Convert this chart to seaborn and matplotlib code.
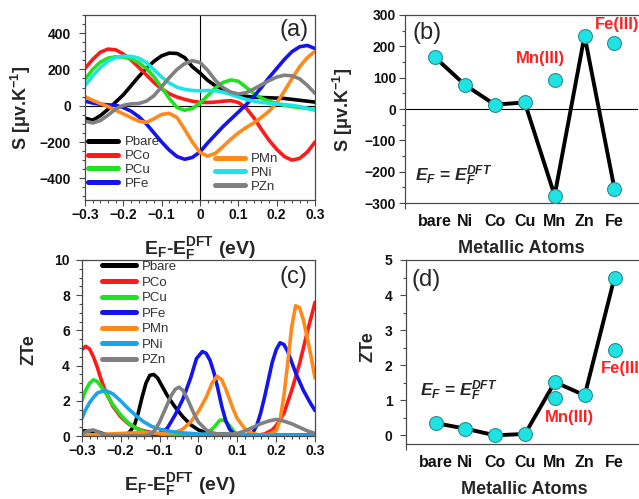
import matplotlib
matplotlib.use('Agg')
import matplotlib.pyplot as plt
from matplotlib.lines import Line2D
from matplotlib.ticker import MultipleLocator, FixedLocator
import numpy as np
import pandas as pd
import seaborn as sns

sns.set_style('ticks')
plt.rcParams['font.family'] = ['Liberation Sans', 'DejaVu Sans']
plt.rcParams['mathtext.fontset'] = 'custom'
plt.rcParams['mathtext.rm'] = 'Liberation Sans'
plt.rcParams['mathtext.bf'] = 'Liberation Sans:bold'
plt.rcParams['mathtext.it'] = 'Liberation Sans:italic'
plt.rcParams['mathtext.bfit'] = 'Liberation Sans:bold:italic'

# ---------------- data ----------------
names = ['Pbare', 'PCo', 'PCu', 'PFe', 'PMn', 'PNi', 'PZn']

# (a) Seebeck coefficient vs E_F - E_F^DFT
xa = np.round(np.linspace(-0.3, 0.3, 31), 3)
s_bare = [-68, -80, -55, -20, 20, 60, 110, 160, 205, 245, 275, 290, 288, 265, 215, 180,
          140, 110, 90, 72, 60, 52, 47, 45, 44, 42, 40, 35, 30, 25, 20]
s_co = [205, 255, 295, 312, 308, 285, 252, 212, 170, 128, 92, 66, 48, 35, 25, 18,
        18, 20, 25, 28, 18, -12, -65, -130, -190, -240, -280, -300, -290, -255, -200]
s_cu = [145, 200, 240, 262, 270, 268, 258, 238, 205, 160, 100, 40, -10, -25, -15, 15,
        55, 98, 128, 142, 135, 102, 68, 42, 25, 12, 2, -5, -10, -15, -20]
s_fe = [25, 15, 8, 5, 2, -10, -30, -60, -100, -150, -200, -245, -280, -295, -285, -255,
        -205, -160, -115, -75, -35, 5, 50, 100, 155, 205, 255, 298, 325, 332, 315]
s_mn = [50, 30, 12, -5, -25, -45, -65, -85, -92, -72, -48, -42, -65, -130, -200, -258,
        -278, -262, -225, -185, -150, -120, -95, -65, -30, 15, 80, 150, 215, 265, 300]
s_ni = [110, 165, 210, 245, 265, 273, 272, 262, 238, 198, 158, 125, 102, 90, 84, 82,
        84, 82, 75, 62, 48, 35, 25, 18, 14, 10, 6, 2, -5, -15, -25]
s_zn = [-85, -95, -82, -52, -18, 2, 10, 12, 25, 55, 105, 155, 200, 232, 248, 238,
        195, 140, 100, 75, 65, 72, 92, 115, 138, 158, 168, 165, 148, 112, 68]

# (c) ZTe vs E_F - E_F^DFT
zx_bare = [-0.3, -0.28, -0.26, -0.24, -0.22, -0.2, -0.18, -0.165, -0.155, -0.145, -0.135, -0.125,
           -0.115, -0.105, -0.095, -0.08, -0.06, -0.04, -0.02, 0.0, 0.02, 0.05, 0.1, 0.2, 0.3]
zt_bare = [0.3, 0.3, 0.25, 0.1, 0.05, 0.05, 0.15, 0.6, 1.3, 2.2, 3.0, 3.45,
           3.5, 3.3, 2.9, 2.3, 1.65, 1.1, 0.65, 0.35, 0.2, 0.12, 0.08, 0.05, 0.05]
zx_co = [-0.3, -0.29, -0.28, -0.27, -0.26, -0.25, -0.24, -0.22, -0.2, -0.18, -0.16, -0.14, -0.12,
         -0.1, -0.05, 0.0, 0.1, 0.15, 0.17, 0.19, 0.2, 0.22, 0.24, 0.26, 0.28, 0.3]
zt_co = [4.9, 5.1, 4.95, 4.5, 3.9, 3.2, 2.6, 1.7, 1.1, 0.7, 0.45, 0.3, 0.2,
         0.12, 0.05, 0.03, 0.02, 0.05, 0.12, 0.35, 0.6, 1.3, 2.6, 4.1, 5.9, 7.6]
zx_cu = [-0.3, -0.29, -0.28, -0.27, -0.26, -0.25, -0.24, -0.22, -0.2, -0.18, -0.16, -0.14, -0.12,
         -0.1, 0.0, 0.02, 0.04, 0.055, 0.065, 0.08, 0.09, 0.1, 0.12, 0.3]
zt_cu = [2.0, 2.6, 3.0, 3.2, 3.1, 2.8, 2.5, 1.8, 1.2, 0.75, 0.45, 0.25, 0.1,
         0.05, 0.05, 0.1, 0.5, 0.9, 0.92, 0.6, 0.3, 0.1, 0.05, 0.02]
zx_fe = [-0.3, -0.12, -0.1, -0.08, -0.06, -0.04, -0.02, -0.005, 0.01, 0.02, 0.03, 0.04, 0.05,
         0.06, 0.07, 0.08, 0.09, 0.12, 0.14, 0.15, 0.16, 0.17, 0.18, 0.19, 0.2, 0.21, 0.22,
         0.23, 0.24, 0.25, 0.27, 0.29, 0.3]
zt_fe = [0.0, 0.02, 0.15, 0.45, 1.2, 2.1, 3.3, 4.4, 4.8, 4.7, 4.3, 3.6, 2.7,
         1.7, 0.9, 0.4, 0.15, 0.05, 0.2, 0.6, 1.3, 2.2, 3.2, 4.2, 4.9, 5.3, 5.2,
         4.8, 4.2, 3.6, 2.6, 1.8, 1.45]
zx_mn = [-0.3, -0.2, -0.15, -0.1, -0.06, -0.04, -0.02, 0.0, 0.02, 0.035, 0.048, 0.06, 0.07,
         0.08, 0.09, 0.1, 0.12, 0.14, 0.16, 0.18, 0.2, 0.21, 0.22, 0.23, 0.24, 0.25, 0.26,
         0.27, 0.28, 0.29, 0.3]
zt_mn = [0.05, 0.15, 0.2, 0.15, 0.2, 0.4, 0.8, 1.4, 2.2, 3.0, 3.4, 3.2, 2.7,
         2.1, 1.5, 1.0, 0.4, 0.15, 0.05, 0.1, 0.3, 0.9, 2.3, 4.2, 6.2, 7.4, 7.3,
         6.6, 5.6, 4.5, 3.3]
zx_ni = [-0.3, -0.29, -0.28, -0.27, -0.26, -0.24, -0.22, -0.2, -0.18, -0.16, -0.14, -0.12,
         -0.1, -0.08, -0.05, 0.0, 0.1, 0.2, 0.3]
zt_ni = [1.0, 1.5, 1.9, 2.2, 2.45, 2.6, 2.4, 2.0, 1.55, 1.15, 0.8, 0.55,
         0.4, 0.3, 0.2, 0.12, 0.08, 0.05, 0.02]
zx_zn = [-0.3, -0.285, -0.27, -0.255, -0.24, -0.2, -0.14, -0.12, -0.11, -0.1, -0.09, -0.08,
         -0.07, -0.06, -0.05, -0.04, -0.03, -0.02, -0.01, 0.0, 0.02, 0.04, 0.07, 0.1, 0.12,
         0.14, 0.16, 0.18, 0.2, 0.22, 0.24, 0.26, 0.28, 0.3]
zt_zn = [0.1, 0.3, 0.35, 0.2, 0.05, 0.02, 0.02, 0.15, 0.4, 0.8, 1.3, 1.8,
         2.3, 2.65, 2.78, 2.6, 2.2, 1.7, 1.2, 0.8, 0.35, 0.15, 0.1, 0.15, 0.3,
         0.5, 0.7, 0.85, 0.95, 0.85, 0.7, 0.5, 0.3, 0.15]

# (b), (d) values at E_F = E_F^DFT
atoms = ['bare', 'Ni', 'Co', 'Cu', 'Mn', 'Zn', 'Fe']
s_atoms = [165, 77, 14, 21, -276, 234, -254]
zte_atoms = [0.35, 0.19, 0.0, 0.04, 1.52, 1.14, 4.5]
ox_atoms = ['Mn', 'Fe']
s_ox = [93, 211]
zte_ox = [1.06, 2.43]

# ---------------- style ----------------
pal_a = {'Pbare': '#000000', 'PCo': '#ff1a1a', 'PCu': '#22e022', 'PFe': '#1414ee',
         'PMn': '#ff8a1c', 'PNi': '#1de5e5', 'PZn': '#808080'}
pal_c = dict(pal_a, PNi='#1ea3e8')
frame_col = '#4a4a4a'
cyan_mk = '#1fe3e3'
red_txt = '#ff2020'

fig = plt.figure(figsize=(6.39, 4.99), dpi=100)
ax_a = fig.add_axes([0.133, 0.599, 0.360, 0.371])
ax_b = fig.add_axes([0.634, 0.593, 0.365, 0.377])
ax_c = fig.add_axes([0.128, 0.126, 0.365, 0.353])
ax_d = fig.add_axes([0.635, 0.110, 0.364, 0.369])


def style_axes(ax, ypad=5):
    for sp in ax.spines.values():
        sp.set_color(frame_col)
        sp.set_linewidth(0.9)
    ax.tick_params(which='both', direction='out', colors=frame_col, width=0.8)
    ax.tick_params(which='major', length=4.5, labelsize=10, labelcolor='#111111')
    ax.tick_params(which='minor', length=2.5)
    ax.tick_params(axis='x', which='major', pad=1.5)
    ax.tick_params(axis='y', which='major', pad=ypad)
    for lab in ax.get_xticklabels() + ax.get_yticklabels():
        lab.set_fontweight('bold')


xlab = r'$\mathbf{E_F}$-$\mathbf{E_F^{DFT}}$ (eV)'
slab = r'S [μv.K$^{\mathbf{-1}}$]'
eflab = r'$\mathbfit{E_F}$ = $\mathbfit{E_F^{DFT}}$'
xticks_e = [-0.3, -0.2, -0.1, 0, 0.1, 0.2, 0.3]
xticklabels_e = ['\u22120.3', '\u22120.2', '\u22120.1', '0', '0.1', '0.2', '0.3']


def legend_block(ax, handles, labels, anchor, hlen, tpad, lspace):
    leg = ax.legend(handles, labels, loc='upper left', bbox_to_anchor=anchor,
                    frameon=False, fontsize=9.5, handlelength=hlen, handletextpad=tpad,
                    labelspacing=lspace, borderpad=0, borderaxespad=0)
    for t in leg.get_texts():
        t.set_color('#333333')
    return leg


# ---------------- (a) ----------------
df_a = pd.concat([pd.DataFrame({'x': xa, 'y': v, 'curve': n}) for n, v in
                  zip(names, [s_bare, s_co, s_cu, s_fe, s_mn, s_ni, s_zn])])
ax_a.axhline(0, color='black', lw=0.8)
ax_a.axvline(0, color='black', lw=0.8)
sns.lineplot(data=df_a, x='x', y='y', hue='curve', palette=pal_a, estimator=None,
             linewidth=2.6, legend=False, ax=ax_a)
ax_a.set_xlim(-0.3, 0.3)
ax_a.set_ylim(-520, 500)
ax_a.set_xticks(xticks_e)
ax_a.set_xticklabels(xticklabels_e)
ax_a.xaxis.set_minor_locator(MultipleLocator(0.02))
ax_a.yaxis.set_major_locator(MultipleLocator(200))
ax_a.yaxis.set_minor_locator(MultipleLocator(50))
ax_a.set_xlabel(xlab, fontsize=14, fontweight='bold')
ax_a.set_ylabel(slab, fontsize=13, fontweight='bold')
ax_a.xaxis.set_label_coords(0.5, -0.19)
ax_a.yaxis.set_label_coords(-0.226, 0.5)
ax_a.text(0.97, 0.98, '(a)', transform=ax_a.transAxes, ha='right', va='top', fontsize=17)
style_axes(ax_a, ypad=5.5)

h1 = [Line2D([], [], color=pal_a[n], lw=3.6) for n in names[:4]]
leg1 = legend_block(ax_a, h1, names[:4], (0.013, 0.345), 2.3, 0.5, 0.12)
ax_a.add_artist(leg1)
h2 = [Line2D([], [], color=pal_a[n], lw=3.6) for n in names[4:]]
legend_block(ax_a, h2, names[4:], (0.565, 0.255), 2.3, 0.4, 0.12)

# ---------------- (c) ----------------
xs_c = [zx_bare, zx_co, zx_cu, zx_fe, zx_mn, zx_ni, zx_zn]
ys_c = [zt_bare, zt_co, zt_cu, zt_fe, zt_mn, zt_ni, zt_zn]
df_c = pd.concat([pd.DataFrame({'x': xx, 'y': yy, 'curve': n}) for n, xx, yy in
                  zip(names, xs_c, ys_c)])
sns.lineplot(data=df_c, x='x', y='y', hue='curve', palette=pal_c, estimator=None,
             linewidth=2.6, legend=False, ax=ax_c)
ax_c.set_xlim(-0.3, 0.3)
ax_c.set_ylim(0, 10)
ax_c.set_xticks(xticks_e)
ax_c.set_xticklabels(xticklabels_e)
ax_c.xaxis.set_minor_locator(MultipleLocator(0.02))
ax_c.yaxis.set_major_locator(MultipleLocator(2))
ax_c.yaxis.set_minor_locator(MultipleLocator(0.5))
ax_c.set_xlabel(xlab, fontsize=14, fontweight='bold')
ax_c.set_ylabel('ZTe', fontsize=13, fontweight='bold')
ax_c.xaxis.set_label_coords(0.42, -0.2)
ax_c.yaxis.set_label_coords(-0.19, 0.49)
ax_c.text(0.966, 0.965, '(c)', transform=ax_c.transAxes, ha='right', va='top', fontsize=17)
style_axes(ax_c, ypad=4)
h3 = [Line2D([], [], color=pal_c[n], lw=3.6) for n in names]
legend_block(ax_c, h3, names, (0.086, 0.995), 2.6, 0.4, 0.25)

# ---------------- (b) and (d) ----------------
pos = list(range(1, len(atoms) + 1))
ox_pos = [pos[atoms.index(a)] for a in ox_atoms]


def atom_panel(ax, vals, ox_vals, ypad):
    sns.lineplot(x=pos, y=vals, color='black', linewidth=2.8, marker='o', markersize=10,
                 markerfacecolor=cyan_mk, markeredgecolor='#2a8f8f', markeredgewidth=0.8,
                 ax=ax, clip_on=False, zorder=3)
    sns.scatterplot(x=ox_pos, y=ox_vals, s=100, color=cyan_mk, edgecolor='#2a8f8f',
                    linewidth=0.8, ax=ax, clip_on=False, zorder=3)
    ax.set_xlim(0, 7.8)
    ax.set_xticks(pos)
    ax.set_xticklabels(atoms)
    ax.xaxis.set_minor_locator(FixedLocator([0, 5]))
    ax.set_xlabel('Metallic Atoms', fontsize=13, fontweight='bold')
    ax.spines['right'].set_visible(False)


def atom_ticks(ax, ypad):
    style_axes(ax, ypad=ypad)
    ax.tick_params(axis='x', which='major', length=0, pad=8, labelsize=11.5)
    ax.tick_params(axis='x', which='minor', length=4)


atom_panel(ax_b, s_atoms, s_ox, 2)
ax_b.axhline(0, color='black', lw=0.8, zorder=1)
ax_b.set_ylim(-300, 300)
ax_b.yaxis.set_minor_locator(MultipleLocator(50))
ax_b.set_yticks([-300, -200, -100, 0, 100, 200, 300])
ax_b.set_yticklabels(['\u2212300', '\u2212200', '\u2212100', '0', '100', '200', '300'])
ax_b.set_ylabel(slab, fontsize=13, fontweight='bold')
ax_b.yaxis.set_label_coords(-0.214, 0.495)
ax_b.xaxis.set_label_coords(0.5, -0.197)
ax_b.text(0.03, 0.96, '(b)', transform=ax_b.transAxes, ha='left', va='top', fontsize=17)
ax_b.text(0.33, -213, eflab, ha='left', va='center', fontsize=12.5, fontweight='bold')
ax_b.text(4.53, 160, 'Mn(III)', color=red_txt, ha='center', va='center',
          fontsize=12, fontweight='bold')
ax_b.text(6.33, 269, 'Fe(III)', color=red_txt, ha='left', va='center',
          fontsize=12, fontweight='bold', clip_on=False)
atom_ticks(ax_b, 2)

atom_panel(ax_d, zte_atoms, zte_ox, 5)
ax_d.set_ylim(-0.25, 5)
ax_d.yaxis.set_major_locator(MultipleLocator(1))
ax_d.yaxis.set_minor_locator(MultipleLocator(0.5))
ax_d.set_ylabel('ZTe', fontsize=13, fontweight='bold')
ax_d.yaxis.set_label_coords(-0.124, 0.53)
ax_d.xaxis.set_label_coords(0.51, -0.2)
ax_d.text(0.026, 0.95, '(d)', transform=ax_d.transAxes, ha='left', va='top', fontsize=17)
ax_d.text(0.47, 1.27, eflab, ha='left', va='center', fontsize=12.5, fontweight='bold')
ax_d.text(5.5, 0.52, 'Mn(III)', color=red_txt, ha='center', va='center',
          fontsize=12, fontweight='bold')
ax_d.text(6.53, 1.92, 'Fe(III)', color=red_txt, ha='left', va='center',
          fontsize=12, fontweight='bold', clip_on=False)
atom_ticks(ax_d, 5)

fig.savefig('out.png', dpi=100)
